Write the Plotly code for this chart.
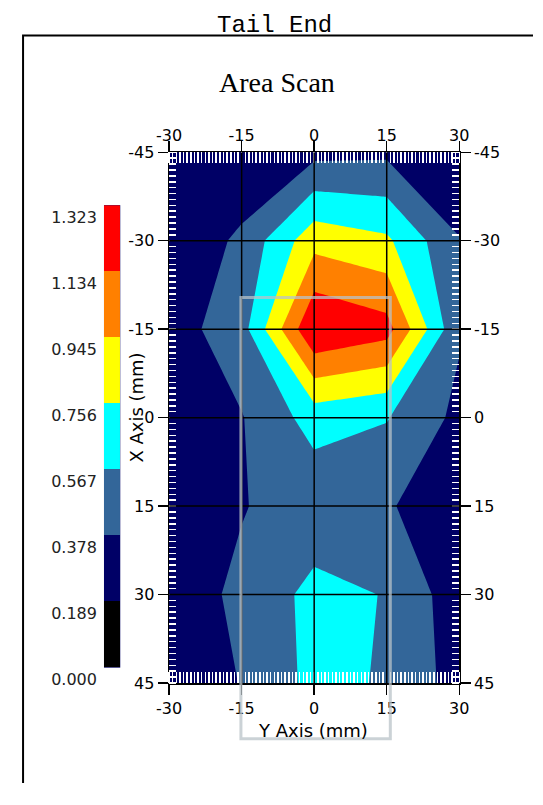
import plotly.graph_objects as go

W, H = 543, 805

# ---------------- data ----------------
x_mm = [-45, -30, -15, 0, 15, 30, 45]      # vertical axis ("X Axis (mm)")
y_mm = [-30, -15, 0, 15, 30]               # horizontal axis ("Y Axis (mm)")

row_m45 = [0.200, 0.200, 0.322, 0.340, 0.250]
row_m30 = [0.200, 0.420, 0.880, 0.790, 0.385]
row_m15 = [0.287, 0.490, 1.320, 1.210, 0.400]
row_0 = [0.250, 0.368, 0.645, 0.578, 0.330]
row_15 = [0.280, 0.372, 0.430, 0.390, 0.300]
row_30 = [0.320, 0.400, 0.630, 0.558, 0.270]
row_45 = [0.250, 0.385, 0.620, 0.550, 0.300]
z_vals = [row_m45, row_m30, row_m15, row_0, row_15, row_30, row_45]

levels = [0.000, 0.189, 0.378, 0.567, 0.756, 0.945, 1.134, 1.323]
level_labels = ["0.000", "0.189", "0.378", "0.567", "0.756", "0.945", "1.134", "1.323"]
band_colors = ["#000000", "#000066", "#336699", "#00FFFF", "#FFFF00", "#FF8000", "#FF0000"]

x_ticks = [-45, -30, -15, 0, 15, 30, 45]
y_ticks = [-30, -15, 0, 15, 30]
x_tick_text = [str(v) for v in x_ticks]
y_tick_text = [str(v) for v in y_ticks]

# ---------------- helpers (page pixel -> paper fraction) ----------------
def fx(px):
    return px / W

def fy(py):
    return 1 - py / H

PL, PR, PT, PB = 163, 466, 149, 701   # plot area in page pixels

# contour colorscale (fill colours are sampled at level midpoints)
nb = len(band_colors)
bounds = [(k + 0.75) / 6 for k in range(5)] + [0.96]
cs_contour = [[0, band_colors[0]]]
for k in range(nb - 1):
    cs_contour.append([bounds[k], band_colors[k]])
    cs_contour.append([bounds[k], band_colors[k + 1]])
cs_contour.append([1, band_colors[-1]])

# colour bar colorscale (7 equal bins)
cs_bar = []
for k, c in enumerate(band_colors):
    cs_bar.append([k / nb, c])
    cs_bar.append([(k + 1) / nb, c])

mids = [(levels[i] + levels[i + 1]) / 2 for i in range(nb)]
step = levels[1] - levels[0]

fig = go.Figure()

fig.add_trace(go.Contour(
    x=y_mm, y=x_mm, z=z_vals,
    contours=dict(start=levels[1], end=levels[6], size=step,
                  coloring="fill", showlines=False),
    line=dict(width=0, smoothing=0),
    colorscale=cs_contour, showscale=False, hoverinfo="skip",
    xaxis="x", yaxis="y",
))

fig.add_trace(go.Heatmap(
    x=[0], y=mids, z=[[m] for m in mids],
    zmin=levels[0], zmax=levels[-1], colorscale=cs_bar,
    showscale=False, hoverinfo="skip", xaxis="x2", yaxis="y2",
))

# dummy trace so the mirrored (top/right) label axes exist
fig.add_trace(go.Scatter(x=[None], y=[None], mode="markers",
                         showlegend=False, hoverinfo="skip",
                         xaxis="x3", yaxis="y3"))

tickfont = dict(family="DejaVu Sans", size=16, color="black")

common_x = dict(
    range=[y_ticks[0], y_ticks[-1]], tickvals=y_ticks, ticktext=y_tick_text,
    ticks="outside", ticklen=10, tickwidth=1.5, tickcolor="black", showline=True,
    linecolor="black", linewidth=1.5, showgrid=False, zeroline=False,
    tickfont=tickfont,
    minor=dict(ticks="inside", dtick=0.75, ticklen=11, tickwidth=1.5,
               tickcolor="white", showgrid=False),
)
common_y = dict(
    range=[x_ticks[-1], x_ticks[0]], tickvals=x_ticks, ticktext=x_tick_text,
    ticks="outside", ticklen=10, tickwidth=1.5, tickcolor="black", showline=True,
    linecolor="black", linewidth=1.5, showgrid=False, zeroline=False,
    tickfont=tickfont,
    minor=dict(ticks="inside", dtick=1, ticklen=7, tickwidth=1.5,
               tickcolor="white", showgrid=False),
)

shapes = []
for v in y_ticks[1:-1]:
    shapes.append(dict(type="line", xref="x", yref="y", x0=v, x1=v,
                       y0=x_ticks[0], y1=x_ticks[-1],
                       line=dict(color="black", width=1.5), layer="above"))
for v in x_ticks[1:-1]:
    shapes.append(dict(type="line", xref="x", yref="y", y0=v, y1=v,
                       x0=y_ticks[0], x1=y_ticks[-1],
                       line=dict(color="black", width=1.5), layer="above"))
# light grey selection box
shapes.append(dict(type="rect", xref="paper", yref="paper",
                   x0=fx(238), x1=fx(394), y0=fy(759), y1=fy(300),
                   line=dict(color="rgba(185,195,200,0.75)", width=3),
                   layer="above"))
# outer frame (left and top edges only; the rest runs off the page)
shapes.append(dict(type="path", xref="paper", yref="paper",
                   path=f"M {fx(10.5)},0 L {fx(10.5)},{fy(27.5)} L 1,{fy(27.5)}",
                   line=dict(color="black", width=2), layer="above"))

annotations = [
    dict(text="Tail End", x=fx(273), y=fy(17), xref="paper", yref="paper",
         showarrow=False, xanchor="center", yanchor="middle",
         font=dict(family="Liberation Mono, Courier New, monospace", size=24, color="black")),
    dict(text="Area Scan", x=fx(276), y=fy(76), xref="paper", yref="paper",
         showarrow=False, xanchor="center", yanchor="middle",
         font=dict(family="Liberation Serif, Times New Roman, serif", size=28, color="black")),
    dict(text="X Axis (mm)", x=fx(128), y=fy(415), xref="paper", yref="paper",
         showarrow=False, xanchor="center", yanchor="middle", textangle=-90,
         font=dict(family="DejaVu Sans", size=18, color="black")),
    dict(text="Y Axis (mm)", x=fx(313), y=fy(750), xref="paper", yref="paper",
         showarrow=False, xanchor="center", yanchor="middle",
         font=dict(family="DejaVu Sans", size=18, color="black")),
]

fig.update_layout(
    width=W, height=H, autosize=False,
    margin=dict(l=0, r=0, t=0, b=0, pad=0),
    paper_bgcolor="white", plot_bgcolor="#000066",
    showlegend=False,
    xaxis=dict(domain=[fx(PL), fx(PR)], anchor="y", side="bottom", **common_x),
    yaxis=dict(domain=[fy(PB), fy(PT)], anchor="x", side="left", **common_y),
    xaxis3=dict(overlaying="x", anchor="y", side="top", ticklabelstandoff=-7,
                **common_x),
    yaxis3=dict(overlaying="y", anchor="x", side="right", **common_y),
    xaxis2=dict(domain=[fx(95), fx(112)], anchor="y2", range=[-0.5, 0.5],
                visible=False, fixedrange=True),
    yaxis2=dict(domain=[fy(685), fy(204)], anchor="x2", range=[levels[0], levels[-1]],
                side="left", tickvals=levels, ticktext=level_labels, ticks="",
                showline=False, showgrid=False, zeroline=False,
                tickfont=dict(family="DejaVu Sans", size=16, color="#222222"),
                ticklabelshift=12, ticklabelstandoff=6),
    shapes=shapes,
    annotations=annotations,
)

fig.write_html("out.html", config={"staticPlot": True, "displayModeBar": False})
